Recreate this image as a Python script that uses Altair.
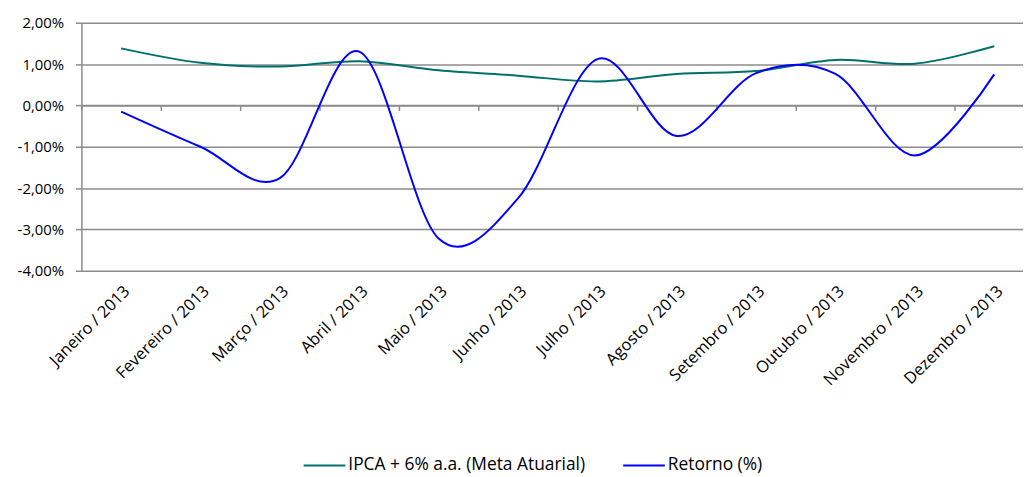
import altair as alt
import pandas as pd

meses = ["Janeiro / 2013", "Fevereiro / 2013", "Março / 2013", "Abril / 2013",
         "Maio / 2013", "Junho / 2013", "Julho / 2013", "Agosto / 2013",
         "Setembro / 2013", "Outubro / 2013", "Novembro / 2013", "Dezembro / 2013"]
ipca = [1.38, 1.03, 0.94, 1.07, 0.85, 0.72, 0.58, 0.76, 0.83, 1.10, 1.01, 1.43]
retorno = [-0.15, -1.00, -1.76, 1.30, -3.22, -2.25, 1.12, -0.74, 0.78, 0.76, -1.21, 0.75]
series = ["IPCA + 6% a.a. (Meta Atuarial)", "Retorno (%)"]
cores = ["#00706C", "#0000FF"]
y_ticks = [-4, -3, -2, -1, 0, 1, 2]

rows = []
for m, a, b in zip(meses, ipca, retorno):
    rows.append({"mes": m, "serie": series[0], "valor": a})
    rows.append({"mes": m, "serie": series[1], "valor": b})
df = pd.DataFrame(rows)

FONT = "Open Sans"
H = 250
offset = -(H * 4 / 6)  # bring x axis up to 0% line

chart = alt.Chart(df).mark_line(
    interpolate="cardinal", tension=0, strokeWidth=2
).encode(
    x=alt.X("mes:N", sort=meses,
            scale=alt.Scale(type="band", paddingInner=0, paddingOuter=0, range=[0, 960]),
            axis=alt.Axis(title=None, orient="bottom", offset=offset,
                          domain=True, domainColor="#8c8c8c", domainWidth=1.5,
                          ticks=True, tickBand="extent", tickSize=5,
                          tickColor="#8c8c8c", tickWidth=1.5,
                          labelAngle=-45, labelAlign="right", labelBaseline="top",
                          labelPadding=H * 4 / 6 + 7, labelFont=FONT,
                          labelFontSize=16.5, labelColor="#000000", grid=False)),
    y=alt.Y("valor:Q",
            scale=alt.Scale(domain=[-4, 2], nice=False, zero=False),
            axis=alt.Axis(title=None, values=y_ticks, grid=True,
                          gridColor="#8c8c8c", gridWidth=1.5,
                          domain=True, domainColor="#8c8c8c", domainWidth=1.5,
                          ticks=True, tickSize=6, tickColor="#8c8c8c", tickWidth=1.5,
                          labelFont=FONT, labelFontSize=15, labelColor="#000000",
                          labelPadding=12,
                          labelExpr="replace(replace(format(datum.value, '.2f'), '.', ','), '\u2212', '-') + '%'")),
    color=alt.Color("serie:N",
                    scale=alt.Scale(domain=series, range=cores),
                    legend=alt.Legend(title=None, orient="none", direction="horizontal",
                                      legendX=223, legendY=424, padding=0,
                                      symbolType="stroke", symbolSize=1764,
                                      symbolStrokeWidth=2, labelOffset=2,
                                      columnPadding=34, labelLimit=400,
                                      labelFont=FONT, labelFontSize=17.5,
                                      labelColor="#000000"))
).properties(
    width=949, height=H,
    autosize=alt.AutoSizeParams(type="none"),
    padding={"left": 74, "top": 13, "right": 0, "bottom": 205}
).configure_view(stroke=None)

chart.save("out.html", embed_options={"renderer": "svg", "actions": False})
